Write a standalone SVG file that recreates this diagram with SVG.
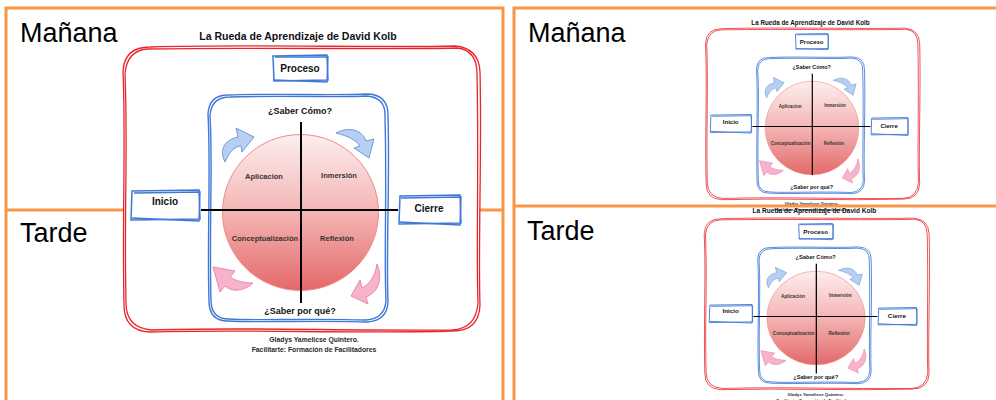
<svg xmlns="http://www.w3.org/2000/svg" xmlns:xlink="http://www.w3.org/1999/xlink" width="996" height="400" viewBox="0 0 996 400">
<style>
.orange{stroke:#f79646;stroke-width:3;fill:none}
.slide{font-family:"Liberation Sans",Arial,sans-serif;font-size:27px;fill:#000}
.t{font-family:"Liberation Sans",Arial,sans-serif;font-weight:bold;fill:#111;text-anchor:middle}
.title{font-size:10.5px}
.box{font-size:10px}
.q{font-size:9px}
.lab{font-size:7.5px;fill:#333}
.foot{font-size:6.8px;fill:#2a2a2a}
.red{fill:none;stroke:#e8262a;stroke-width:1.3}
.blue{fill:none;stroke:#3f78d6;stroke-width:1.4}
.bbox{fill:#fff;stroke:#3f78d6;stroke-width:1.5}
.axis{stroke:#000;stroke-width:2;fill:none}
.barrow{fill:#b7cff0;stroke:#6f9ad8;stroke-width:1}
.parrow{fill:#f6b3cb;stroke:#e88aab;stroke-width:1}
</style>
<defs>
<linearGradient id="wheelGrad" x1="0" y1="0" x2="0" y2="1">
<stop offset="0" stop-color="#fdeeee"/>
<stop offset="0.5" stop-color="#f4b4b4"/>
<stop offset="1" stop-color="#e46969"/>
</linearGradient>
<path id="redA" d="M150,47 C250,44 380,48 455,46 Q479,48 480,72 C482,150 478,250 480,305 Q479,331 453,331 C350,334 250,329 150,332 Q124,331 124,305 C122,220 126,140 123,72 Q124,47 150,47 Z"/>
<path id="redB" d="M148,49 C260,47 370,50 457,48 Q477,50 477,74 C479,160 476,260 478,303 Q476,329 452,330 C350,331 240,327 152,330 Q126,328 126,303 C124,210 128,150 125,74 Q127,50 148,49 Z"/>
<path id="blueA" d="M228,95 C280,93 330,96 368,94 Q388,95 388,115 C390,180 386,250 388,302 Q387,321 367,322 C320,320 260,323 228,321 Q209,321 209,301 C207,240 211,170 208,114 Q209,95 228,95 Z"/>
<path id="blueB" d="M230,97 C290,95 340,98 366,96 Q386,97 385,117 C387,190 384,260 386,300 Q385,319 366,320 C310,318 250,321 229,319 Q211,319 211,300 C209,230 213,160 210,116 Q211,97 230,97 Z"/>
<path id="arrTL" d="M225,162 C219,150 224,140 238,137 L236,128 L254,137 L242,152 L241,146 C233,147 229,153 225,162 Z"/>
<path id="arrTR" d="M336,133 C350,126 362,130 366,141 L374,139 L369,158 L354,148 L360,146 C356,140 348,136 336,133 Z"/>
<path id="arrBL" d="M253,283 C243,292 232,292 225,286 L220,292 L213,267 L235,271 L230,277 C236,281 244,283 253,283 Z"/>
<path id="arrBR" d="M377,264 C383,278 379,292 366,297 L368,304 L351,296 L360,280 L362,288 C370,284 375,276 377,264 Z"/>
</defs>
<rect x="0" y="0" width="996" height="400" fill="#fff"/>

<g id="left-panel">
<path class="orange" d="M6,400 V8 H503 V400"/>
<path class="orange" d="M6,210 H503"/>
<text class="slide" x="20" y="42">Mañana</text>
<text class="slide" x="20" y="242">Tarde</text>
</g>

<g id="d1">
<g id="d1-frame"><use xlink:href="#redA" class="red" style="fill:#fff"/><use xlink:href="#redB" class="red"/></g>
<g id="d1-title"><text class="t title" x="298" y="40">La Rueda de Aprendizaje de David Kolb</text></g>
<g id="d1-proceso"><path class="bbox" d="M273,56 L327,55 L328,80 L274,81 Z"/><path class="blue" d="M275,57 L328,57 L327,82 L273,80"/><text class="t box" x="300" y="72">Proceso</text></g>
<g id="d1-process-area"><use xlink:href="#blueA" class="blue"/><use xlink:href="#blueB" class="blue"/></g>
<g id="d1-wheel"><circle cx="300.5" cy="212.5" r="78" fill="url(#wheelGrad)" stroke="#f08a8a" stroke-width="1"/></g>
<g id="d1-arrows"><use xlink:href="#arrTL" class="barrow"/><use xlink:href="#arrTR" class="barrow"/><use xlink:href="#arrBL" class="parrow"/><use xlink:href="#arrBR" class="parrow"/></g>
<g id="d1-connectors"><path class="axis" d="M301,122 V303"/><path class="axis" d="M201,210 H398"/></g>
<g id="d1-inicio"><path class="bbox" d="M132,191 L199,190 L200,219 L131,220 Z"/><path class="blue" d="M134,193 L200,192 L199,221 L132,218"/><text class="t box" x="165" y="205">Inicio</text></g>
<g id="d1-cierre"><path class="bbox" d="M400,196 L460,195 L461,223 L399,224 Z"/><path class="blue" d="M401,198 L461,197 L460,225 L400,222"/><text class="t box" x="429" y="212">Cierre</text></g>
<g id="d1-q-top"><text class="t q" x="300" y="114">¿Saber Cómo?</text></g>
<g id="d1-aplicacion"><text class="t lab" x="264" y="179">Aplicacion</text></g>
<g id="d1-inmersion"><text class="t lab" x="339" y="178">Inmersión</text></g>
<g id="d1-conceptualizacion"><text class="t lab" x="265" y="241">Conceptualización</text></g>
<g id="d1-reflexion"><text class="t lab" x="337" y="241">Reflexión</text></g>
<g id="d1-q-bottom"><text class="t q" x="300" y="314">¿Saber por qué?</text></g>
<g id="d1-footer"><text class="t foot" x="314" y="342">Gladys Yamelicse Quintero.</text><text class="t foot" x="314" y="352">Facilitarte: Formación de Facilitadores</text></g>
</g>

<g id="d2" transform="translate(631.7,0.5) scale(0.6)">
<g id="d2-frame"><use xlink:href="#redA" class="red" style="fill:#fff"/><use xlink:href="#redB" class="red"/></g>
<g id="d2-title"><text class="t title" x="298" y="40">La Rueda de Aprendizaje de David Kolb</text></g>
<g id="d2-proceso"><path class="bbox" d="M273,56 L327,55 L328,80 L274,81 Z"/><path class="blue" d="M275,57 L328,57 L327,82 L273,80"/><text class="t box" x="300" y="72">Proceso</text></g>
<g id="d2-process-area"><use xlink:href="#blueA" class="blue"/><use xlink:href="#blueB" class="blue"/></g>
<g id="d2-wheel"><circle cx="300.5" cy="212.5" r="78" fill="url(#wheelGrad)" stroke="#f08a8a" stroke-width="1"/></g>
<g id="d2-arrows"><use xlink:href="#arrTL" class="barrow"/><use xlink:href="#arrTR" class="barrow"/><use xlink:href="#arrBL" class="parrow"/><use xlink:href="#arrBR" class="parrow"/></g>
<g id="d2-connectors"><path class="axis" d="M301,122 V291"/><path class="axis" d="M201,210 H398"/></g>
<g id="d2-inicio"><path class="bbox" d="M132,191 L199,190 L200,219 L131,220 Z"/><path class="blue" d="M134,193 L200,192 L199,221 L132,218"/><text class="t box" x="165" y="205">Inicio</text></g>
<g id="d2-cierre"><path class="bbox" d="M400,196 L460,195 L461,223 L399,224 Z"/><path class="blue" d="M401,198 L461,197 L460,225 L400,222"/><text class="t box" x="429" y="212">Cierre</text></g>
<g id="d2-q-top"><text class="t q" x="300" y="114">¿Saber Cómo?</text></g>
<g id="d2-aplicacion"><text class="t lab" x="264" y="179">Aplicacion</text></g>
<g id="d2-inmersion"><text class="t lab" x="339" y="178">Inmersión</text></g>
<g id="d2-conceptualizacion"><text class="t lab" x="265" y="241">Conceptualización</text></g>
<g id="d2-reflexion"><text class="t lab" x="337" y="241">Reflexión</text></g>
<g id="d2-q-bottom"><text class="t q" x="300" y="314">¿Saber por qué?</text></g>
<g id="d2-footer"><text class="t foot" x="300" y="341">Gladys Yamelicse Quintero.</text><text class="t foot" x="300" y="351">Facilitarte: Formación de Facilitadores</text></g>
</g>

<g id="d3" transform="translate(626.7,190.5) scale(0.63,0.6)">
<g id="d3-frame"><use xlink:href="#redA" class="red" style="fill:#fff"/><use xlink:href="#redB" class="red"/></g>
<g id="d3-title"><text class="t title" x="298" y="38">La Rueda de Aprendizaje de David Kolb</text></g>
<g id="d3-proceso"><path class="bbox" d="M273,56 L327,55 L328,80 L274,81 Z"/><path class="blue" d="M275,57 L328,57 L327,82 L273,80"/><text class="t box" x="300" y="72">Proceso</text></g>
<g id="d3-process-area"><use xlink:href="#blueA" class="blue"/><use xlink:href="#blueB" class="blue"/></g>
<g id="d3-wheel"><circle cx="300.5" cy="212.5" r="78" fill="url(#wheelGrad)" stroke="#f08a8a" stroke-width="1"/></g>
<g id="d3-arrows"><use xlink:href="#arrTL" class="barrow"/><use xlink:href="#arrTR" class="barrow"/><use xlink:href="#arrBL" class="parrow"/><use xlink:href="#arrBR" class="parrow"/></g>
<g id="d3-connectors"><path class="axis" d="M301,122 V305"/><path class="axis" d="M201,210 H398"/></g>
<g id="d3-inicio"><path class="bbox" d="M132,191 L199,190 L200,219 L131,220 Z"/><path class="blue" d="M134,193 L200,192 L199,221 L132,218"/><text class="t box" x="165" y="205">Inicio</text></g>
<g id="d3-cierre"><path class="bbox" d="M400,196 L460,195 L461,223 L399,224 Z"/><path class="blue" d="M401,198 L461,197 L460,225 L400,222"/><text class="t box" x="429" y="212">Cierre</text></g>
<g id="d3-q-top"><text class="t q" x="300" y="114">¿Saber Cómo?</text></g>
<g id="d3-aplicacion"><text class="t lab" x="264" y="179">Aplicación</text></g>
<g id="d3-inmersion"><text class="t lab" x="339" y="178">Inmersión</text></g>
<g id="d3-conceptualizacion"><text class="t lab" x="265" y="241">Conceptualización</text></g>
<g id="d3-reflexion"><text class="t lab" x="337" y="241">Reflexión</text></g>
<g id="d3-q-bottom"><text class="t q" x="300" y="314">¿Saber por qué?</text></g>
<g id="d3-footer"><text class="t foot" x="300" y="342">Gladys Yamelicse Quintero.</text><text class="t foot" x="300" y="352">Facilitarte: Formación de Facilitadores</text></g>
</g>

<g id="right-panel">
<path class="orange" d="M514,400 V8 H996"/>
<path class="orange" d="M514,206 H996"/>
<text class="slide" x="528" y="42">Mañana</text>
<text class="slide" x="527" y="240">Tarde</text>
</g>
</svg>
